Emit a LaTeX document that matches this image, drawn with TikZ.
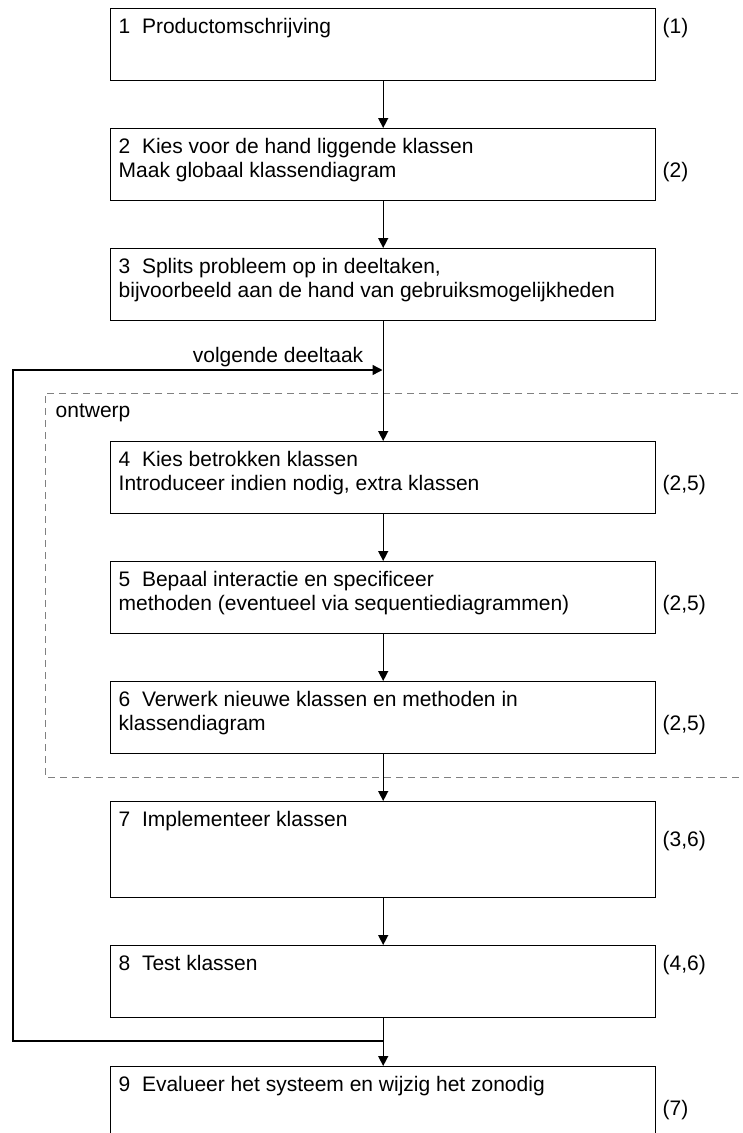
\documentclass[tikz,border=0pt]{standalone}
\usepackage{fontspec}
\setmainfont{Liberation Sans}
\usetikzlibrary{arrows.meta}
\begin{document}
\begin{tikzpicture}[x=1pt,y=-1pt,line width=1.4pt,
    font=\fontsize{21}{24}\selectfont,
    box/.style={draw,rectangle,anchor=north west,inner sep=0pt,
      minimum width=545pt,minimum height=72pt},
    tallbox/.style={box,minimum height=96pt},
    txt/.style={anchor=north west,align=left,inner sep=0pt},
    ref/.style={anchor=base west,inner sep=0pt},
    arr/.style={-{Triangle[length=10pt,width=10pt]}},
    frame/.style={draw=gray,line width=1pt,dash pattern=on 7pt off 5pt}]
  \useasboundingbox (0,0) rectangle (742,1133);
  % ontwerp frame
  \draw[frame] (750,393) -- (45,393) -- (45,777) -- (750,777);
  \node[ref] (ontw) at (55,417) {ontwerp};
  % steps
  \node[box] (1) at (110,8) {};
  \node[txt] (1t) at (118,18) {1\ \ Productomschrijving};
  \node[ref] (1r) at (662,33) {(1)};
  \node[box] (2) at (110,128) {};
  \node[txt] (2t) at (118,138) {2\ \ Kies voor de hand liggende klassen\\Maak globaal klassendiagram};
  \node[ref] (2r) at (662,177) {(2)};
  \node[box] (3) at (110,248) {};
  \node[txt] (3t) at (118,258) {3\ \ Splits probleem op in deeltaken,\\bijvoorbeeld aan de hand van gebruiksmogelijkheden};
  \node[box] (4) at (110,441) {};
  \node[txt] (4t) at (118,451) {4\ \ Kies betrokken klassen\\Introduceer indien nodig, extra klassen};
  \node[ref] (4r) at (662,490) {(2,5)};
  \node[box] (5) at (110,561) {};
  \node[txt] (5t) at (118,571) {5\ \ Bepaal interactie en specificeer\\methoden (eventueel via sequentiediagrammen)};
  \node[ref] (5r) at (662,610) {(2,5)};
  \node[box] (6) at (110,681) {};
  \node[txt] (6t) at (118,691) {6\ \ Verwerk nieuwe klassen en methoden in\\klassendiagram};
  \node[ref] (6r) at (662,730) {(2,5)};
  \node[tallbox] (7) at (110,801) {};
  \node[txt] (7t) at (118,811) {7\ \ Implementeer klassen};
  \node[ref] (7r) at (662,846) {(3,6)};
  \node[box] (8) at (110,945) {};
  \node[txt] (8t) at (118,955) {8\ \ Test klassen};
  \node[ref] (8r) at (662,970) {(4,6)};
  \node[box] (9) at (110,1066) {};
  \node[txt] (9t) at (118,1076) {9\ \ Evalueer het systeem en wijzig het zonodig};
  \node[ref] (9r) at (662,1115) {(7)};
  \draw[arr] (1) -- (2);
  \draw[arr] (2) -- (3);
  \draw[arr] (3) -- (4);
  \draw[arr] (4) -- (5);
  \draw[arr] (5) -- (6);
  \draw[arr] (6) -- (7);
  \draw[arr] (7) -- (8);
  \draw[arr] (8) -- (9);
  % back to the next subtask
  \coordinate (j) at (382.5,1041);
  \coordinate (back) at (382.5,370);
  \draw[arr] (j) -- (13,1041) -- (13,370) -- (back);
  \node[anchor=base east,inner sep=0pt] (next) at (364,362) {volgende deeltaak};
\end{tikzpicture}
\end{document}
